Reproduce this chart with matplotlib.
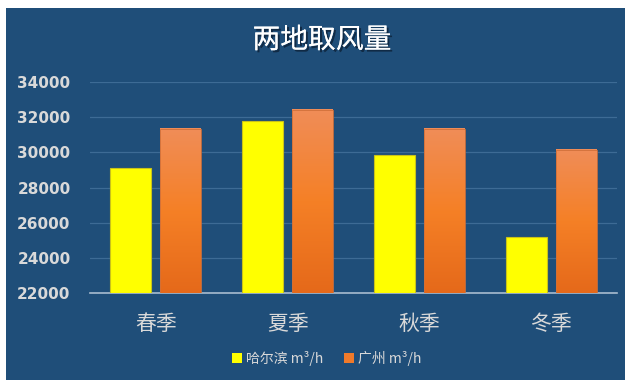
"""两地取风量 - grouped bars on a dark blue panel."""

import matplotlib

matplotlib.use("Agg")
import matplotlib.pyplot as plt  # noqa: E402
import numpy as np  # noqa: E402
from matplotlib.colors import LinearSegmentedColormap  # noqa: E402
from matplotlib.patches import Patch, Rectangle  # noqa: E402
import matplotlib.patheffects as pe  # noqa: E402

plt.rcParams["font.family"] = ["Noto Sans CJK SC", "DejaVu Sans"]

seasons = ["春季", "夏季", "秋季", "冬季"]
harbin = [29100, 31800, 29850, 25180]
guangzhou = [31350, 32400, 31350, 30150]
series_names = ["哈尔滨 m³/h", "广州 m³/h"]
y_ticks = [22000, 24000, 26000, 28000, 30000, 32000, 34000]

BG = "#1f4e79"
TEXT = "#d9d9d9"
orange_map = LinearSegmentedColormap.from_list("orange", ["#e5691a", "#f58026", "#f08d58"])

figure = plt.figure(figsize=(6.25, 3.8), dpi=100)
figure.patch.set_facecolor("white")
figure.patches.append(Rectangle((6 / 625, 0), 1 - 6 / 625, 1 - 8 / 380, transform=figure.transFigure,
                                facecolor=BG, edgecolor="none", zorder=-10))

axis = figure.add_axes([90 / 625, 1 - 293.3 / 380, 527 / 625, (293.3 - 82) / 380])
axis.set_zorder(1)
axis.set_facecolor("none")
x = np.arange(len(seasons))
width, offset = 0.31, 0.19

axis.bar(x - offset, np.array(harbin) - 22000, width, bottom=22000,
         color="#ffff00", edgecolor="#c9c21a", linewidth=0.8, zorder=3)
orange_bars = axis.bar(x + offset, np.array(guangzhou) - 22000, width, bottom=22000,
                       color="none", edgecolor="#d0703a", linewidth=0.6, zorder=4)
gradient = np.linspace(0, 1, 256).reshape(-1, 1)
for bar in orange_bars:
    x0, y0 = bar.get_x(), bar.get_y()
    axis.imshow(gradient, cmap=orange_map, origin="lower", aspect="auto", zorder=3,
                extent=(x0, x0 + bar.get_width(), y0, y0 + bar.get_height()))

axis.set_xlim(-0.5, 3.5)
axis.set_ylim(22000, 34000)
axis.set_yticks(y_ticks)
axis.set_yticklabels([str(v) for v in y_ticks], fontsize=11, fontweight="bold", color=TEXT,
                     family="DejaVu Sans")
axis.set_xticks(x)
axis.set_xticklabels(seasons, fontsize=15, color=TEXT)
axis.tick_params(length=0, pad=14, axis="x")
axis.tick_params(length=0, pad=14, axis="y")
axis.grid(axis="y", color="#3d6b95", linewidth=0.9, zorder=0)
for side in ("top", "right", "left"):
    axis.spines[side].set_visible(False)
axis.spines["bottom"].set_color("#a9bccf")
axis.spines["bottom"].set_linewidth(1.2)

figure.text(0.515, 1 - 40 / 380, "两地取风量", ha="center", va="center", fontsize=20,
            fontweight="medium", color="white",
            path_effects=[pe.withSimplePatchShadow(offset=(1.5, -1.5), shadow_rgbFace="#0d2238", alpha=0.8),
                          pe.Normal()])

handles = [Patch(facecolor="#ffff00", edgecolor="none"), Patch(facecolor="#f07a2a", edgecolor="none")]
legend = figure.legend(handles, series_names, loc="center", bbox_to_anchor=(0.523, 1 - 358 / 380),
                       ncol=2, frameon=False, fontsize=10, handlelength=0.7, handleheight=0.7,
                       handletextpad=0.3, columnspacing=1.5)
for text in legend.get_texts():
    text.set_color(TEXT)

figure.savefig("out.png", dpi=100, facecolor=figure.get_facecolor())
